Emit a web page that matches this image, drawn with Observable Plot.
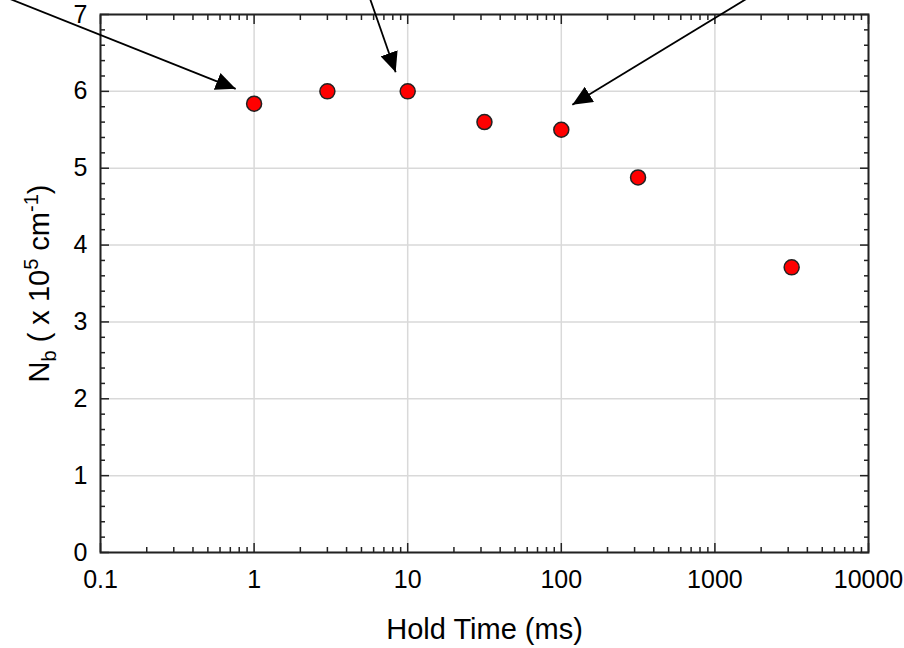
<!DOCTYPE html>
<html><head><meta charset="utf-8">
<script src="https://cdn.jsdelivr.net/npm/d3@7"></script>
<script src="https://cdn.jsdelivr.net/npm/@observablehq/plot@0.6"></script>
<style>
  html, body { margin: 0; padding: 0; background: #fff; }
</style>
</head>
<body>
<div id="chart"></div>
<script>
// ---- data ----
const holdTime = [1, 3, 10, 31.6, 100, 316, 3160];          // ms
const nb       = [5.84, 6.0, 6.0, 5.60, 5.50, 4.88, 3.71];   // x 10^5 cm^-1

// tick values
const xMajor = [0.1, 1, 10, 100, 1000, 10000];
const xTickLabels = ["0.1", "1", "10", "100", "1000", "10000"];
const yMajor = [0, 1, 2, 3, 4, 5, 6, 7];
const xMinor = xMajor.slice(0, -1).flatMap(d => [2,3,4,5,6,7,8,9].map(k => +(d * k).toPrecision(3)));
const yMinor = yMajor.slice(0, -1).flatMap(d => [0.2,0.4,0.6,0.8].map(k => +(d + k).toFixed(1)));

// annotation arrows (start above the frame, end near points)
const arrowFromX = [0.0235, 5.62, 1700];
const arrowFromY = [7.234, 7.234, 7.234];
const arrowToX   = [0.759, 8.35, 118];
const arrowToY   = [6.033, 6.249, 5.825];

const xLabel = "Hold Time (ms)";
const yLabel = "Nb ( x 105 cm-1)";

const points = holdTime.map((t, i) => ({t, n: nb[i]}));
const arrows = arrowFromX.map((x1, i) => ({x1, y1: arrowFromY[i], x2: arrowToX[i], y2: arrowToY[i]}));

function filledArrow(color) {
  const m = document.createElementNS("http://www.w3.org/2000/svg", "marker");
  m.setAttribute("viewBox", "-20 -9 20 18");
  m.setAttribute("markerWidth", 20);
  m.setAttribute("markerHeight", 18);
  m.setAttribute("markerUnits", "userSpaceOnUse");
  m.setAttribute("orient", "auto");
  m.setAttribute("refX", 0);
  m.setAttribute("refY", 0);
  const p = document.createElementNS("http://www.w3.org/2000/svg", "path");
  p.setAttribute("d", "M-20,-9L0,0L-20,9Z");
  p.setAttribute("fill", color);
  p.setAttribute("stroke", "none");
  m.appendChild(p);
  return m;
}

const tickColor = "#222";
const gridColor = "#d9d9d9";

const plot = Plot.plot({
  width: 904,
  height: 648,
  marginLeft: 100,
  marginRight: 36,
  marginTop: 14,
  marginBottom: 96,
  style: {fontFamily: "'Liberation Sans', Arial, sans-serif", fontSize: "25px", color: "#000", background: "#fff"},
  x: {type: "log", domain: [0.1, 10000]},
  y: {domain: [0, 7]},
  marks: [
    Plot.gridX(xMajor, {stroke: gridColor, strokeOpacity: 1, strokeWidth: 1.5}),
    Plot.gridY(yMajor, {stroke: gridColor, strokeOpacity: 1, strokeWidth: 1.5}),
    // inward ticks on all four sides
    Plot.axisX(xMajor, {anchor: "bottom", tickSize: -9, fill: "none", stroke: tickColor, strokeWidth: 1.5, label: null}),
    Plot.axisX(xMajor, {anchor: "top", tickSize: -9, fill: "none", stroke: tickColor, strokeWidth: 1.5, label: null}),
    Plot.axisX(xMinor, {anchor: "bottom", tickSize: -5, fill: "none", stroke: tickColor, strokeWidth: 1.5, label: null}),
    Plot.axisX(xMinor, {anchor: "top", tickSize: -5, fill: "none", stroke: tickColor, strokeWidth: 1.5, label: null}),
    Plot.axisY(yMajor, {anchor: "left", tickSize: -9, fill: "none", stroke: tickColor, strokeWidth: 1.5, label: null}),
    Plot.axisY(yMajor, {anchor: "right", tickSize: -9, fill: "none", stroke: tickColor, strokeWidth: 1.5, label: null}),
    Plot.axisY(yMinor, {anchor: "left", tickSize: -5, fill: "none", stroke: tickColor, strokeWidth: 1.5, label: null}),
    Plot.axisY(yMinor, {anchor: "right", tickSize: -5, fill: "none", stroke: tickColor, strokeWidth: 1.5, label: null}),
    // tick labels
    Plot.axisX(xMajor, {anchor: "bottom", tickSize: 0, tickPadding: 18, fontSize: 25, fill: "#000",
      tickFormat: (d) => xTickLabels[xMajor.indexOf(d)], label: null}),
    Plot.axisY(yMajor, {anchor: "left", tickSize: 0, tickPadding: 13, fontSize: 25, fill: "#000",
      tickFormat: (d) => String(d), label: null}),
    // axis titles
    Plot.text([xLabel], {text: d => d, frameAnchor: "bottom", dy: 86, lineAnchor: "bottom", textAnchor: "middle", fontSize: 29, fill: "#000"}),
    Plot.text([yLabel], {text: d => d, frameAnchor: "left", dx: -52, rotate: -90, lineAnchor: "bottom", textAnchor: "middle", fontSize: 29, fill: "#000"}),
    Plot.frame({stroke: tickColor, strokeWidth: 2}),
    // data
    Plot.dot(points, {x: "t", y: "n", r: 7.5, fill: "#ff0000", stroke: "#222", strokeWidth: 1.5}),
    // annotation arrows
    Plot.link(arrows, {x1: "x1", y1: "y1", x2: "x2", y2: "y2", stroke: "#000", strokeWidth: 1.8, markerEnd: filledArrow})
  ]
});

// rich y-axis title with sub/superscripts (kept as real text)
const yLabelParts = [
  {t: "N"}, {t: "b", shift: 7}, {t: " ( x 10"}, {t: "5", shift: -11}, {t: " cm"}, {t: "-1", shift: -11}, {t: ")"}
];
for (const el of plot.querySelectorAll("text")) {
  if (el.textContent === yLabel) {
    el.textContent = "";
    el.setAttribute("text-anchor", "middle");
    let cur = 0;
    for (const part of yLabelParts) {
      const ts = document.createElementNS("http://www.w3.org/2000/svg", "tspan");
      const target = part.shift || 0;
      ts.setAttribute("dy", target - cur);
      cur = target;
      if (part.shift) ts.setAttribute("font-size", 20);
      ts.textContent = part.t;
      el.appendChild(ts);
    }
  }
}

document.getElementById("chart").appendChild(plot);
</script>
</body></html>
